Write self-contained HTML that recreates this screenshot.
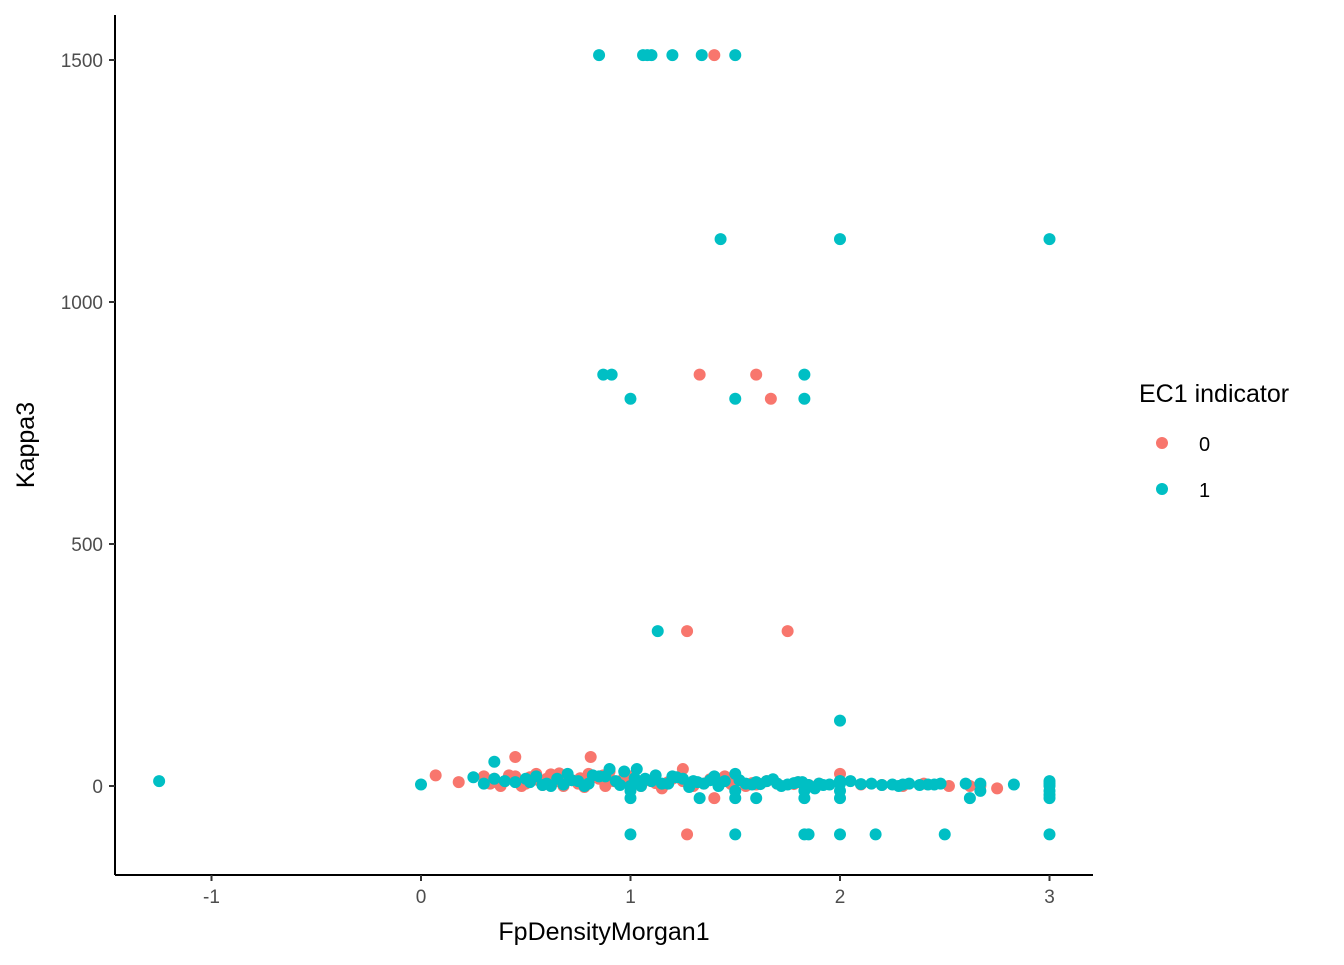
<!DOCTYPE html>
<html><head><meta charset="utf-8">
<style>
body{margin:0;background:#fff;font-family:"Liberation Sans",Arial,sans-serif;}
svg text{font-family:"Liberation Sans",Arial,sans-serif;}
</style></head>
<body>
<svg id="chart" width="1344" height="960" viewBox="0 0 1344 960" xmlns="http://www.w3.org/2000/svg">
<g id="pts0"></g>
<g id="pts1"></g>
<g id="axes"></g>
<text x="604" y="940" text-anchor="middle" font-size="25" fill="#000">FpDensityMorgan1</text>
<text transform="translate(34,445) rotate(-90)" text-anchor="middle" font-size="25" fill="#000">Kappa3</text>
<g>
<text x="1139" y="402" font-size="25" fill="#000">EC1 indicator</text>
<circle cx="1162" cy="443" r="6" fill="#F8766D"/>
<text x="1199" y="451" font-size="20" fill="#000">0</text>
<circle cx="1162" cy="489" r="6" fill="#00BFC4"/>
<text x="1199" y="497" font-size="20" fill="#000">1</text>
</g>
</svg>
<script>
const xTicks=[-1,0,1,2,3];
const yTicks=[0,500,1000,1500];
const x0=[1.4,1.33,1.6,1.67,1.27,1.75,1.27,0.45,0.81,1.25,0.07,0.18,2,1.4,2.75,2.67,2.52,2.2,2.1,1.9,1.8,1.7,1.6,1.5,1.45,1.35,1.2,1.1,1.0,0.95,0.9,0.85,0.8,0.75,0.7,0.65,0.6,0.55,0.5,0.45,0.4,0.35,0.3,0.33,0.38,0.48,0.58,0.68,0.78,0.88,0.98,1.05,1.15,1.25,1.3,1.55,1.65,2.3,2.4,2.62,0.72,0.82,0.92,1.02,1.12,0.32,0.42,0.52,0.62,0.87,0.97,1.08,1.18,1.38,1.48,1.58,1.78,1.85,0.36,0.56,0.76,0.66];
const y0=[1510,850,850,800,320,320,-100,60,60,35,22,8,25,-25,-5,0,0,2,3,5,8,5,3,10,20,5,15,10,20,5,30,15,25,5,20,10,15,25,5,20,10,15,20,5,0,0,2,0,-2,0,8,0,-5,10,0,0,10,0,5,0,12,18,10,14,6,12,22,18,24,22,18,12,8,14,4,6,4,2,8,12,16,26];
const x1=[0.85,1.06,1.08,1.1,1.2,1.34,1.5,1.43,2,3,0.87,0.91,1.83,1,1.5,1.83,1.13,2,-1.25,0,0.35,0.25,
1,1.5,1.83,1.85,2,2.17,2.5,3,
1,1.33,1.5,1.6,1.83,2,2.62,3,
1,1.5,1.83,2,2.67,3,3,3,
0.3,0.4,0.5,0.55,0.6,0.65,0.7,0.75,0.8,0.85,0.9,0.93,0.97,1.0,1.03,1.07,1.1,1.15,1.2,1.25,1.3,1.35,1.4,1.45,1.5,1.55,1.6,1.65,1.7,1.75,1.8,1.85,1.9,1.95,2,2.05,2.15,2.25,2.33,2.42,2.48,2.6,2.67,2.83,0.45,0.62,0.78,0.95,1.05,1.18,1.28,1.42,1.58,1.72,1.88,2.28,2.38,1,2,
0.35,0.52,0.68,0.72,0.88,1.12,1.22,1.32,1.52,1.62,1.78,1.92,2.1,2.2,2.3,2.45,0.58,0.82,1.02,1.38,1.68,1.82,2,3,3];
const y1=[1510,1510,1510,1510,1510,1510,1510,1130,1130,1130,850,850,850,800,800,800,320,135,10,3,50,18,
-100,-100,-100,-100,-100,-100,-100,-100,
-25,-25,-25,-25,-25,-25,-25,-25,
-10,-10,-10,-10,-10,-10,0,10,
5,10,15,20,5,15,25,10,5,20,35,10,30,0,35,15,10,5,20,15,10,5,20,10,25,5,8,10,5,3,8,2,5,3,5,10,5,3,5,3,5,5,5,3,8,0,0,2,0,5,-2,0,3,0,-5,0,2,0,10,15,
8,3,12,20,22,18,8,12,4,6,2,4,2,3,3,2,22,16,12,14,8,10,5,-18,-5];
const L=115,R=1093,T=15,B=875;
const sx=v=>421+v*209.5, sy=v=>786-v*0.484;
const NS="http://www.w3.org/2000/svg";
function draw(id,xs,ys,col){
 const g=document.getElementById(id);
 xs.forEach((v,i)=>{const c=document.createElementNS(NS,'circle');
 c.setAttribute('cx',sx(v));c.setAttribute('cy',sy(ys[i]));c.setAttribute('r',6);c.setAttribute('fill',col);
 
 
 g.appendChild(c);});
}
draw('pts0',x0,y0,'#F8766D');
draw('pts1',x1,y1,'#00BFC4');
const ax=document.getElementById('axes');
function el(tag,attrs,txt){const e=document.createElementNS(NS,tag);for(const k in attrs)e.setAttribute(k,attrs[k]);if(txt!==undefined)e.textContent=txt;ax.appendChild(e);return e;}
const xl=el('line',{x1:L,y1:B,x2:R,y2:B,stroke:'#000','stroke-width':2});


const yl=el('line',{x1:L,y1:T,x2:L,y2:B,stroke:'#000','stroke-width':2});


xTicks.forEach(t=>{const x=sx(t);
 const tk=el('line',{x1:x,y1:B,x2:x,y2:B+6,stroke:'#333','stroke-width':2});
 
 
 const tl=el('text',{x:x,y:B+28,'text-anchor':'middle','font-size':19,fill:'#4D4D4D'},String(t));
 
 
});
yTicks.forEach(t=>{const y=sy(t);
 const tk=el('line',{x1:L-6,y1:y,x2:L,y2:y,stroke:'#333','stroke-width':2});
 
 
 const tl=el('text',{x:L-12,y:y+7,'text-anchor':'end','font-size':19,fill:'#4D4D4D'},String(t));
 
 
});
</script>
</body></html>
